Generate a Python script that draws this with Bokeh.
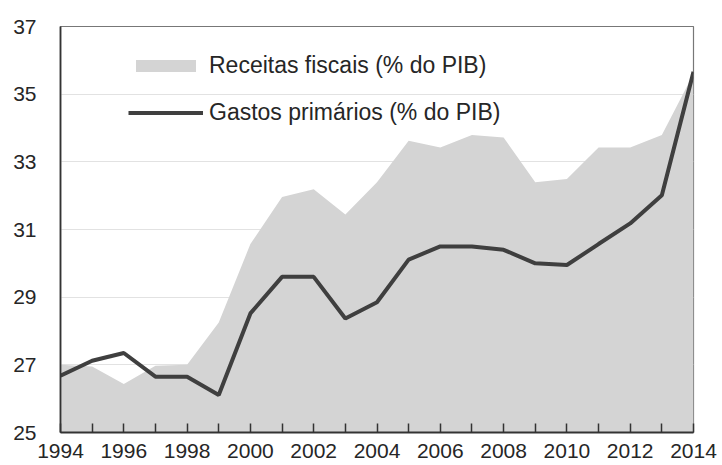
from bokeh.plotting import figure
from bokeh.models import Range1d, FixedTicker, Legend, LegendItem, ColumnDataSource
from bokeh.embed import file_html
from bokeh.resources import INLINE

years = list(range(1994, 2015))
receitas = [27.0, 26.95, 26.43, 26.97, 27.0, 28.25, 30.57, 31.96, 32.19, 31.44, 32.4,
            33.62, 33.42, 33.79, 33.72, 32.4, 32.49, 33.42, 33.42, 33.79, 35.6]
gastos = [26.68, 27.12, 27.35, 26.65, 26.65, 26.11, 28.52, 29.6, 29.6, 28.37, 28.85,
          30.11, 30.5, 30.5, 30.4, 30.0, 29.95, 30.57, 31.18, 32.01, 35.66]
y_ticks = [25, 27, 29, 31, 33, 35, 37]
x_ticks = list(range(1994, 2015, 2))
x_minor = list(range(1995, 2014, 2))
legend_labels = ["Receitas fiscais (% do PIB)", "Gastos primários (% do PIB)"]

FONT = "Liberation Sans"
TXT = "#262626"

src = ColumnDataSource(dict(year=years, rec=receitas, gas=gastos, base=[25] * len(years)))

p = figure(width=722, height=465, output_backend="svg", toolbar_location=None,
           x_range=Range1d(1994, 2014), y_range=Range1d(25, 37),
           min_border_left=60, min_border_right=29, min_border_top=26, min_border_bottom=33)

p.outline_line_color = "#777777"
p.outline_line_width = 1.2
p.background_fill_color = "white"
p.border_fill_color = "white"

area = p.varea(x="year", y1="base", y2="rec", source=src, fill_color="#d4d4d4")
line = p.line(x="year", y="gas", source=src, line_color="#3f3f3f", line_width=4)

p.xgrid.visible = False
p.ygrid.ticker = FixedTicker(ticks=y_ticks)
p.ygrid.grid_line_color = "#e2e2e2"
p.ygrid.grid_line_width = 1.2

xa = p.xaxis[0]
xa.ticker = FixedTicker(ticks=x_ticks, minor_ticks=x_minor)
xa.major_tick_in = 9
xa.major_tick_out = 0
xa.minor_tick_in = 9
xa.minor_tick_out = 0
xa.major_tick_line_color = "#333333"
xa.minor_tick_line_color = "#333333"
xa.major_tick_line_width = 1.5
xa.minor_tick_line_width = 1.5
xa.axis_line_color = "#333333"
xa.axis_line_width = 1.8
xa.major_label_text_font = FONT
xa.major_label_text_font_size = "21px"
xa.major_label_text_color = TXT
xa.major_label_standoff = 11

ya = p.yaxis[0]
ya.ticker = FixedTicker(ticks=y_ticks)
ya.major_tick_in = 0
ya.major_tick_out = 0
ya.minor_tick_line_color = None
ya.axis_line_color = "#333333"
ya.axis_line_width = 1.8
ya.major_label_text_font = FONT
ya.major_label_text_font_size = "21px"
ya.major_label_text_color = TXT
ya.major_label_standoff = 24

legend = Legend(items=[LegendItem(label=legend_labels[0], renderers=[area]),
                       LegendItem(label=legend_labels[1], renderers=[line])],
                location=(68, 306), orientation="vertical",
                label_text_font=FONT, label_text_font_size="23px", label_text_color=TXT,
                glyph_width=75, glyph_height=15, label_standoff=6, spacing=20,
                padding=0, margin=0, border_line_alpha=0, background_fill_alpha=0)
p.add_layout(legend)

open("out.html", "w").write(file_html(p, INLINE))
